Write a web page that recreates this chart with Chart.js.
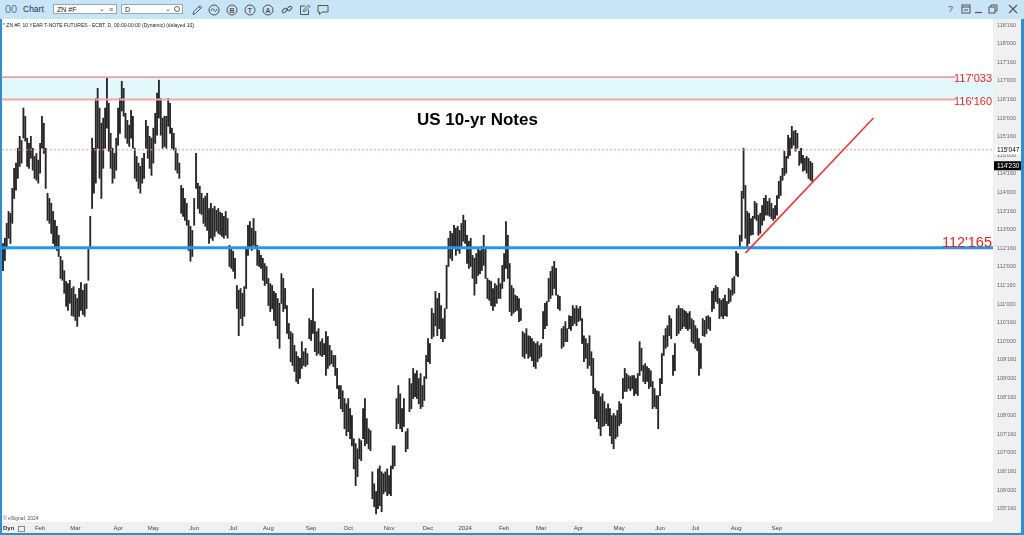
<!DOCTYPE html>
<html>
<head>
<meta charset="utf-8">
<script src="https://cdn.jsdelivr.net/npm/chart.js@4.4.1/dist/chart.umd.min.js"></script>
<style>
  html, body { margin: 0; padding: 0; }
  body { width: 1024px; height: 535px; overflow: hidden; background: #2b8fd6; position: relative;
         font-family: 'Liberation Sans', Arial, sans-serif; }
  #bar { position: absolute; left: 0; top: 0; width: 1024px; height: 19px; background: #c8e4f7; }
  #bar .t { position: absolute; top: 0; line-height: 19px; color: #333; }
  #bar .box { position: absolute; top: 4px; height: 10px; background: #fff; border: 1px solid #9aa7b3;
              font-size: 7px; line-height: 10px; color: #222; padding-left: 3px; box-sizing: border-box; }
  #bar svg { position: absolute; top: 4px; }
  #wrap { position: absolute; left: 2px; top: 19px; width: 1019px; height: 514px; background: #f0f0f0; }
  #sub { position: absolute; left: 1px; top: 3px; font-size: 5px; color: #222; white-space: nowrap; }
  #copy { position: absolute; left: 1px; top: 496px; font-size: 5px; color: #555; white-space: nowrap; }
  #dyn { position: absolute; left: 1px; top: 506px; font-size: 6px; font-weight: bold; color: #333; }
  #lock { position: absolute; left: 16px; top: 507px; width: 5px; height: 4px; border: 1px solid #888; }
  #title { position: absolute; left: 417px; top: 110px; font-size: 17px; font-weight: bold; color: #000;
           white-space: nowrap; z-index: 2; }
</style>
</head>
<body>
<div id="bar">
  <span class="t" style="left:5px;font-size:11px;color:#60758a;">00</span>
  <span class="t" style="left:23px;font-size:8.5px;">Chart</span>
  <div class="box" style="left:53px;width:64px;">ZN #F
    <span style="position:absolute;left:45px;top:-1px;font-size:7px;color:#555;">&#8964;</span>
    <span style="position:absolute;left:55px;top:0;font-size:7px;color:#555;">&#8801;</span>
  </div>
  <div class="box" style="left:121px;width:62px;">D
    <span style="position:absolute;left:43px;top:-1px;font-size:7px;color:#555;">&#8964;</span>
    <span style="position:absolute;left:52px;top:1px;width:6px;height:6px;border:1px solid #666;border-radius:50%;box-sizing:border-box;"></span>
  </div>
  <svg style="left:191px" width="12" height="12" viewBox="0 0 12 12"><path d="M2 10.5 L2.8 7.6 L8.8 1.6 L10.6 3.4 L4.6 9.4 Z M7.8 2.6 L9.6 4.4" fill="none" stroke="#555" stroke-width="1"/></svg>
  <svg style="left:208px" width="12" height="12" viewBox="0 0 12 12"><circle cx="6" cy="6" r="5" fill="none" stroke="#555"/><path d="M3 7 Q4.5 3 6 6 T9 5" fill="none" stroke="#555"/></svg>
  <svg style="left:226px" width="12" height="12" viewBox="0 0 12 12"><circle cx="6" cy="6" r="5" fill="none" stroke="#555"/><text x="6" y="8.5" font-size="7" text-anchor="middle" fill="#555" font-family="Liberation Sans" font-weight="bold">B</text></svg>
  <svg style="left:244px" width="12" height="12" viewBox="0 0 12 12"><circle cx="6" cy="6" r="5" fill="none" stroke="#555"/><text x="6" y="8.5" font-size="7" text-anchor="middle" fill="#555" font-family="Liberation Sans" font-weight="bold">T</text></svg>
  <svg style="left:262px" width="12" height="12" viewBox="0 0 12 12"><circle cx="6" cy="6" r="5" fill="none" stroke="#555"/><text x="6" y="8.5" font-size="7" text-anchor="middle" fill="#555" font-family="Liberation Sans" font-weight="bold">A</text></svg>
  <svg style="left:281px" width="12" height="12" viewBox="0 0 12 12"><rect x="1" y="5" width="5" height="3" rx="1.4" transform="rotate(-45 3.5 6.5)" fill="none" stroke="#555"/><rect x="6" y="3" width="5" height="3" rx="1.4" transform="rotate(-45 8.5 4.5)" fill="none" stroke="#555"/></svg>
  <svg style="left:299px" width="12" height="12" viewBox="0 0 12 12"><path d="M6 2 H1.5 V10.5 H9.5 V6" fill="none" stroke="#555"/><path d="M4.5 7.5 L5 5.5 L9.5 1 L11 2.5 L6.5 7 Z" fill="none" stroke="#555"/></svg>
  <svg style="left:317px" width="12" height="12" viewBox="0 0 12 12"><path d="M1 1.5 H11 V8 H5 L2.5 10.5 V8 H1 Z" fill="none" stroke="#555"/></svg>
  <span class="t" style="left:948px;font-size:9px;color:#555;">?</span>
  <svg style="left:961px" width="10" height="10" viewBox="0 0 10 10"><rect x="1" y="1" width="8" height="8" fill="none" stroke="#555"/><path d="M1 3 H9" stroke="#555"/><path d="M3 6 H7" stroke="#555"/></svg>
  <svg style="left:974px" width="10" height="10" viewBox="0 0 10 10"><path d="M1 8.5 H8" stroke="#555" stroke-width="1.2"/></svg>
  <svg style="left:988px" width="10" height="10" viewBox="0 0 10 10"><rect x="1" y="3" width="6" height="6" fill="none" stroke="#555"/><path d="M3 3 V1 H9 V7 H7" fill="none" stroke="#555"/></svg>
  <svg style="left:1008px" width="10" height="10" viewBox="0 0 10 10"><path d="M1 1 L9 9 M9 1 L1 9" stroke="#555" stroke-width="1.1"/></svg>
</div>

<div id="wrap">
  <canvas id="chart"></canvas>
  <div id="sub">* ZN #F, 10 YEAR T-NOTE FUTURES - ECBT, D, 00:00-00:00 (Dynamic) (delayed 10)</div>
  <div id="copy">&copy; eSignal, 2024</div>
  <div id="dyn">Dyn</div>
  <div id="lock"></div>
</div>
<div id="title">US 10-yr Notes</div>

<script>
// daily bar highs / lows, 3 Jan 2023 .. 27 Sep 2024 (price points, decimal)
const highs = [
  112.63,112.77,113.17,113.49,113.44,114.11,114.65,114.79,115.19,115.51,
  115.40,116.27,116.05,115.46,115.32,115.51,115.19,114.97,115.05,114.87,
  115.32,116.05,115.86,115.19,113.98,113.84,113.71,113.49,113.25,113.09,
  112.85,112.28,112.17,111.90,111.61,111.55,111.64,111.42,111.47,111.26,
  111.15,111.42,111.58,111.37,111.53,111.55,112.50,113.36,115.46,115.19,
  116.53,116.80,116.27,115.86,116.00,116.27,117.07,116.40,115.59,115.19,
  115.05,115.46,116.27,116.53,116.99,116.80,116.13,115.94,115.81,116.21,
  116.05,115.19,114.97,114.79,114.70,114.92,115.05,115.94,115.78,115.51,
  115.46,115.73,116.13,116.67,117.02,116.53,116.00,116.05,116.05,116.53,
  116.40,115.73,115.59,115.19,115.05,114.79,114.19,114.11,113.84,113.71,
  113.25,113.09,112.98,113.84,115.05,114.25,114.17,113.98,113.84,113.90,
  113.98,113.57,113.71,113.57,113.63,113.52,113.57,113.47,113.44,113.36,
  113.49,113.30,112.58,112.50,112.42,112.23,111.50,111.37,111.42,111.29,
  111.47,112.50,113.12,113.22,113.04,113.30,112.96,112.58,112.44,112.31,
  112.23,112.09,112.01,111.69,111.55,111.50,111.34,111.29,111.15,111.02,
  111.82,111.69,111.42,110.96,110.48,110.26,110.21,109.89,109.72,109.59,
  109.54,109.99,109.72,109.81,109.67,110.61,110.56,111.42,110.53,110.26,
  110.34,109.99,110.07,109.94,110.26,110.13,109.89,109.75,109.62,109.62,
  109.27,108.81,108.81,108.67,108.46,108.32,108.46,108.19,108.00,107.38,
  107.25,107.11,107.38,107.33,108.19,108.46,107.92,107.65,107.60,106.49,
  106.17,105.96,106.57,106.65,106.49,106.44,106.49,106.57,106.39,106.65,
  107.19,107.19,108.46,108.81,108.59,108.19,108.46,107.57,107.65,109.00,
  108.86,109.27,109.13,109.21,109.00,109.13,108.81,109.05,109.62,110.07,
  109.94,110.88,110.75,111.34,111.15,111.29,110.96,110.61,110.88,112.04,
  112.77,112.96,112.90,113.12,113.04,113.09,112.98,113.17,113.39,113.25,
  112.85,112.69,112.77,112.31,112.23,112.36,112.50,112.44,112.55,112.85,
  112.50,111.69,111.64,111.61,111.42,111.55,111.50,111.69,111.55,112.04,
  112.36,113.22,112.85,112.09,111.50,111.42,111.24,111.21,111.15,110.88,
  110.26,110.21,110.34,110.15,110.13,110.07,109.99,109.94,109.99,109.89,
  109.94,110.80,111.02,111.07,111.69,111.88,112.01,112.15,111.96,111.24,
  111.21,110.34,110.40,110.53,110.34,110.69,110.67,110.96,110.88,110.96,
  110.88,110.94,110.61,110.15,110.07,109.94,110.15,109.72,109.54,108.73,
  108.67,108.65,108.51,108.59,108.38,108.19,108.32,108.19,108.00,108.06,
  108.00,108.14,108.38,108.32,109.00,109.27,109.13,109.08,109.05,109.08,
  109.08,109.00,109.13,109.99,109.81,109.35,109.40,109.32,109.27,109.21,
  108.92,108.73,108.54,108.54,109.00,109.67,110.15,110.34,110.42,110.69,
  110.61,109.62,109.94,110.88,110.96,110.88,110.88,110.83,110.80,110.75,
  110.80,110.61,110.56,110.42,110.34,110.07,109.94,110.61,110.56,110.67,
  110.69,110.64,111.34,111.42,111.50,111.45,111.15,111.10,111.15,111.24,
  111.07,111.42,111.37,111.69,111.74,112.42,112.36,112.85,114.03,115.19,
  114.19,113.49,113.44,113.30,113.36,113.76,113.71,113.39,113.44,113.65,
  113.84,113.92,113.76,113.84,113.71,113.57,113.65,113.92,114.30,114.44,
  114.65,115.11,114.97,115.54,115.46,115.78,115.65,115.67,115.59,115.11,
  115.19,115.00,114.92,114.97,114.92,114.84,114.79
];
const lows = [
  111.90,112.17,112.50,112.77,112.63,113.17,113.84,114.06,114.38,114.70,
  114.79,115.46,115.38,114.70,114.65,114.92,114.60,114.38,114.33,114.25,
  114.52,115.19,115.05,114.11,113.25,113.17,112.90,112.63,112.50,112.44,
  112.28,111.69,111.64,111.29,110.94,110.83,111.02,110.69,110.67,110.56,
  110.40,110.67,110.83,110.72,110.67,110.88,111.64,112.50,113.57,113.98,
  114.25,115.19,114.38,113.84,114.65,115.19,115.73,115.11,114.65,114.25,
  114.38,114.60,115.27,115.59,116.19,116.05,115.46,115.32,115.24,115.46,
  115.19,114.38,114.30,114.11,113.98,114.25,114.38,115.19,114.92,114.65,
  114.46,114.79,115.32,115.54,116.00,115.54,115.19,115.24,115.19,115.78,
  115.59,115.19,115.14,114.60,114.52,114.38,113.44,113.36,113.25,113.12,
  112.44,112.15,112.28,113.12,114.11,113.57,113.44,113.41,113.17,113.09,
  112.98,112.63,112.77,112.71,112.82,112.96,112.90,112.87,112.82,112.77,
  112.85,112.77,112.01,111.96,111.88,111.69,110.88,110.15,110.61,110.42,
  110.67,111.42,112.31,112.50,112.44,112.58,112.50,112.04,112.01,111.96,
  111.64,111.50,111.55,110.96,110.80,110.88,110.56,110.42,110.07,109.81,
  111.02,110.80,110.88,110.21,110.07,109.45,109.35,109.19,108.92,108.86,
  109.00,109.27,109.35,109.32,109.37,110.07,110.02,110.21,109.72,109.62,
  109.67,109.62,109.59,109.64,109.08,109.27,109.35,109.40,109.32,109.08,
  108.73,108.46,108.19,108.11,107.65,107.46,107.57,107.38,107.19,106.57,
  106.12,106.36,106.84,106.79,107.38,107.19,107.25,107.11,107.06,105.77,
  105.55,105.36,105.50,105.58,105.42,105.90,105.96,105.85,105.90,105.85,
  106.57,106.65,107.65,107.79,107.65,107.57,107.71,107.03,107.11,108.11,
  108.19,108.46,108.51,108.46,108.32,108.19,108.24,108.41,109.00,109.45,
  109.40,110.07,110.13,110.42,110.15,110.34,110.07,109.99,110.07,110.88,
  112.01,112.23,112.17,112.50,112.31,112.44,112.36,112.55,112.69,112.63,
  112.09,111.96,112.01,111.69,111.24,111.55,111.77,111.82,111.90,112.04,
  111.69,111.15,111.10,110.96,110.83,110.94,111.02,111.15,111.15,111.42,
  111.61,111.96,111.69,110.80,110.69,110.75,110.80,110.83,110.53,110.56,
  109.59,109.54,109.67,109.54,109.59,109.48,109.32,109.27,109.45,109.54,
  109.59,110.07,110.34,110.42,111.07,111.15,111.24,111.42,111.24,110.88,
  110.83,109.81,109.86,109.99,109.99,110.34,110.29,110.42,110.48,110.42,
  110.53,110.56,109.94,109.45,109.54,109.27,109.35,109.08,108.59,107.92,
  107.84,107.65,107.46,107.71,107.73,107.79,107.73,107.46,107.25,107.11,
  107.38,107.44,107.73,107.79,108.46,108.65,108.65,108.73,108.67,108.73,
  108.54,108.59,108.54,109.08,109.21,108.92,108.86,108.92,108.73,108.78,
  108.19,108.24,108.19,107.65,108.54,108.86,109.62,109.81,109.86,110.15,
  110.07,109.08,109.21,110.15,110.21,110.29,110.34,110.40,110.34,110.29,
  110.34,109.99,109.94,109.81,109.75,109.08,109.27,110.15,110.13,110.21,
  110.34,110.29,110.80,110.88,111.07,111.02,110.61,110.67,110.61,110.69,
  110.67,111.02,111.07,111.24,111.29,111.77,111.74,112.50,112.69,113.84,
  112.77,112.55,112.63,112.85,112.87,113.30,113.25,112.85,112.90,113.12,
  113.25,113.39,113.39,113.36,113.30,113.25,113.30,113.39,113.84,113.92,
  114.33,114.46,114.52,114.92,115.00,115.19,115.27,115.11,115.19,114.73,
  114.79,114.57,114.60,114.52,114.38,114.33,114.30
];
const lastClose = 114.71875;

// x axis: bar index of the first session of each month
const monthTicks  = [20, 39, 62, 81, 103, 124, 143, 166, 186, 208, 229, 249, 270, 290, 310, 332, 354, 373, 395, 417];
const monthLabels = ['Feb','Mar','Apr','May','Jun','Jul','Aug','Sep','Oct','Nov','Dec','2024','Feb','Mar','Apr','May','Jun','Jul','Aug','Sep'];
const priceTicks  = [105.5,106,106.5,107,107.5,108,108.5,109,109.5,110,110.5,111,111.5,112,112.5,
                     113,113.5,114,114.5,115,115.5,116,116.5,117,117.5,118,118.5];

// drawn levels
const bandTop = 117.103;     // 117'033
const bandBottom = 116.5;    // 116'160
const dottedLevel = 115.147; // 115'047
const blueLevel = 112.516;   // 112'165
const trendX = [400, 469];
const trendY = [112.37, 116.0];

const xMin = -0.54, xMax = 533.4;
const levelEnd = 513;

// 32nds notation used by the quote board: 118.5 -> 118'160
function fmt32(v) {
    const whole = Math.floor(v + 1e-9);
    const frac = Math.round((v - whole) * 320);
    return whole + "'" + String(frac).padStart(3, '0');
}

function hline(y, x1, x2, color, width, dash, order) {
    return {
        type: 'line',
        data: [{x: x1, y: y}, {x: x2, y: y}],
        borderColor: color,
        borderWidth: width,
        borderDash: dash || [],
        pointRadius: 0,
        fill: false,
        order: order
    };
}

const annotations = {
    id: 'annotations',
    beforeDraw(chart) {
        const {ctx, chartArea: a} = chart;
        ctx.save();
        ctx.fillStyle = '#ffffff';
        ctx.fillRect(a.left, a.top, a.right - a.left, a.bottom - a.top);
        ctx.restore();
    },
    afterDatasetsDraw(chart) {
        const {ctx, chartArea: a, scales: {y}} = chart;
        ctx.save();
        ctx.fillStyle = '#ff1a1a';
        ctx.textAlign = 'right';
        ctx.textBaseline = 'middle';
        ctx.font = "11px 'Liberation Sans Narrow', 'Liberation Sans', Arial";
        ctx.fillText(fmt32(bandTop), a.right - 1, y.getPixelForValue(bandTop) + 2);
        ctx.fillText(fmt32(bandBottom), a.right - 1, y.getPixelForValue(bandBottom) + 2);
        ctx.textBaseline = 'alphabetic';
        ctx.font = "14.5px 'Liberation Sans Narrow', 'Liberation Sans', Arial";
        ctx.fillText(fmt32(blueLevel), a.right - 1, y.getPixelForValue(blueLevel) - 1);
        ctx.restore();
    },
    afterDraw(chart) {
        const {ctx, chartArea: a, scales: {y}} = chart;
        ctx.save();
        ctx.font = "6.5px 'Liberation Sans', Arial";
        ctx.textBaseline = 'middle';
        ctx.textAlign = 'left';
        let py = y.getPixelForValue(dottedLevel);
        ctx.fillStyle = '#ffffff';
        ctx.fillRect(a.right + 2, py - 4.5, 26, 9);
        ctx.fillStyle = '#000000';
        ctx.fillText(fmt32(dottedLevel), a.right + 4, py);
        py = y.getPixelForValue(lastClose);
        ctx.fillStyle = '#000000';
        ctx.fillRect(a.right + 1, py - 4.5, 27, 9);
        ctx.fillStyle = '#ffffff';
        ctx.fillText(fmt32(lastClose), a.right + 4, py);
        ctx.restore();
    }
};

Chart.defaults.font.family = "'Liberation Sans', Arial, sans-serif";

const ctx = document.getElementById('chart').getContext('2d');
new Chart(ctx, {
    type: 'bar',
    data: {
        datasets: [
            // light blue zone between 117'033 and 116'160
            {
                type: 'line',
                data: [{x: xMin, y: bandTop}, {x: xMax, y: bandTop}],
                borderWidth: 0, pointRadius: 0,
                fill: '+1', backgroundColor: '#e3f8fd',
                order: 30
            },
            {
                type: 'line',
                data: [{x: xMin, y: bandBottom}, {x: xMax, y: bandBottom}],
                borderWidth: 0, pointRadius: 0, fill: false,
                order: 30
            },
            {
                type: 'bar',
                data: highs.map((h, i) => ({x: i, y: [lows[i], h]})),
                backgroundColor: '#262626',
                barThickness: 1.2,
                order: 20
            },
            hline(bandTop, xMin, levelEnd, '#ec5b5b', 1, null, 5),
            hline(bandBottom, xMin, levelEnd, '#f4a6a6', 2, null, 5),
            hline(dottedLevel, xMin, xMax, '#f29a9a', 1, [2, 2], 5),
            hline(blueLevel, xMin, xMax, '#2196f3', 3, null, 5),
            {
                type: 'line',
                data: trendX.map((x, i) => ({x: x, y: trendY[i]})),
                borderColor: '#ff2b2b',
                borderWidth: 1.5,
                pointRadius: 0,
                fill: false,
                order: 1
            }
        ]
    },
    options: {
        responsive: true,
        maintainAspectRatio: false,
        animation: false,
        events: [],
        layout: { padding: 0 },
        plugins: { legend: { display: false }, tooltip: { enabled: false } },
        scales: {
            x: {
                type: 'linear',
                min: xMin,
                max: xMax,
                offset: false,
                grid: { display: false, drawTicks: false },
                border: { display: false },
                afterBuildTicks: s => { s.ticks = monthTicks.map(v => ({value: v})); },
                afterFit: s => {
                    s.height = 11;
                    s.paddingLeft = s.paddingRight = s.paddingTop = s.paddingBottom = 0;
                },
                ticks: {
                    autoSkip: false,
                    maxRotation: 0,
                    padding: 3,
                    color: '#444',
                    font: { size: 6 },
                    callback: v => monthLabels[monthTicks.indexOf(v)]
                }
            },
            y: {
                type: 'linear',
                position: 'right',
                min: 105.142,
                max: 118.664,
                grid: { display: false, drawTicks: false },
                border: { display: false },
                afterBuildTicks: s => { s.ticks = priceTicks.map(v => ({value: v})); },
                afterFit: s => {
                    s.width = 28;
                    s.paddingLeft = s.paddingRight = s.paddingTop = s.paddingBottom = 0;
                },
                ticks: {
                    padding: 4,
                    color: '#666',
                    font: { size: 5.5 },
                    callback: v => fmt32(v)
                }
            }
        }
    },
    plugins: [annotations]
});
</script>
</body>
</html>
